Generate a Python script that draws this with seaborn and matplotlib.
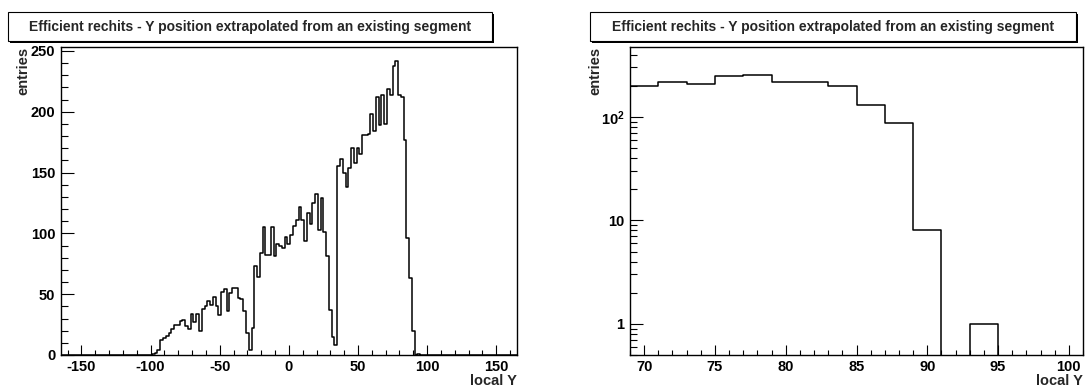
import numpy as np
import pandas as pd
import matplotlib
matplotlib.use("Agg")
import matplotlib.pyplot as plt
from matplotlib.patches import Rectangle
from matplotlib.ticker import MultipleLocator, FixedLocator, FixedFormatter, LogLocator, NullFormatter
import seaborn as sns

# ---------------- data ----------------
title_text = "Efficient rechits - Y position extrapolated from an existing segment"
x_label = "local Y"
y_label = "entries"

bin_width = 2
# left panel: counts per 2-unit bin, first bin starts at -99
left_first_edge = -99
left_counts = [
    1, 2, 4, 12, 14, 16, 18, 21, 25, 25, 28, 29, 24, 21, 34, 27, 34, 20,
    38, 40, 44, 41, 48, 40, 33, 52, 54, 36, 51, 55, 55, 47, 46, 36, 18, 4,
    22, 73, 64, 84, 105, 82, 82, 105, 81, 91, 90, 88, 97, 91, 99, 106, 111,
    122, 111, 94, 117, 108, 125, 132, 103, 129, 101, 81, 37, 15, 8,
    155, 161, 150, 138, 154, 170, 158, 170, 165, 181, 181, 182, 198, 184,
    212, 189, 214, 190, 219, 214, 238, 242, 214, 212, 177, 96, 63, 20, 0, 1,
]
left_range = (-165, 165)
left_ylim = (0, 253)
left_xticks = [-150, -100, -50, 0, 50, 100, 150]
left_yticks = [0, 50, 100, 150, 200, 250]

# right panel (log scale): counts per 2-unit bin, first bin starts at 69
right_first_edge = 69
right_counts = [200, 216, 208, 246, 251, 216, 216, 200, 131, 88, 8, 0, 1, 0, 0, 0]
right_xlim = (69, 101)
right_ylim = (0.5, 470)
right_xticks = [70, 75, 80, 85, 90, 95, 100]
right_yticks = [1, 10, 100]
right_yticklabels = ["1", "10", r"$\mathbf{10^{2}}$"]

# ---------------- style ----------------
sns.set_style("white")
plt.rcParams["font.family"] = ["Liberation Sans", "DejaVu Sans"]
plt.rcParams["font.weight"] = "bold"
plt.rcParams["axes.unicode_minus"] = False
plt.rcParams["mathtext.fontset"] = "custom"
plt.rcParams["mathtext.rm"] = "Liberation Sans:bold"
plt.rcParams["mathtext.bf"] = "Liberation Sans:bold"

W, H = 1085, 390
DPI = 100
fig = plt.figure(figsize=(W / DPI, H / DPI), dpi=DPI)
fig.patch.set_facecolor("white")

PX = 72.0 / DPI  # points per pixel


def axes_rect(x0, x1, ytop, ybot):
    return [x0 / W, 1 - ybot / H, (x1 - x0) / W, (ybot - ytop) / H]


L_X0, L_X1 = 60.7, 517.0
R_X0, R_X1 = 630.0, 1083.0
Y_TOP, Y_BOT = 47.3, 355.0
axL = fig.add_axes(axes_rect(L_X0, L_X1, Y_TOP, Y_BOT))
axR = fig.add_axes(axes_rect(R_X0, R_X1, Y_TOP, Y_BOT))

line_kw = dict(element="step", fill=False, color="black", linewidth=1.1)

# left histogram
l_edges = list(np.arange(left_range[0], left_range[1] + bin_width, bin_width))
left_df = pd.DataFrame({
    "y": left_first_edge + bin_width / 2 + bin_width * np.arange(len(left_counts)),
    "n": left_counts,
})
sns.histplot(data=left_df, x="y", weights="n", bins=l_edges, ax=axL, **line_kw)

# right histogram
r_edges = list(right_first_edge + bin_width * np.arange(len(right_counts) + 1))
right_df = pd.DataFrame({
    "y": right_first_edge + bin_width / 2 + bin_width * np.arange(len(right_counts)),
    "n": right_counts,
})
sns.histplot(data=right_df, x="y", weights="n", bins=r_edges, ax=axR, **line_kw)
axR.set_yscale("log", nonpositive="clip")

axL.set_xlim(*left_range)
axL.set_ylim(*left_ylim)
axR.set_xlim(*right_xlim)
axR.set_ylim(*right_ylim)

# ticks
axL.xaxis.set_major_locator(FixedLocator(left_xticks))
axL.xaxis.set_minor_locator(MultipleLocator(10))
axL.yaxis.set_major_locator(FixedLocator(left_yticks))
axL.yaxis.set_minor_locator(MultipleLocator(10))

axR.xaxis.set_major_locator(FixedLocator(right_xticks))
axR.xaxis.set_minor_locator(MultipleLocator(1))
axR.yaxis.set_major_locator(FixedLocator(right_yticks))
axR.yaxis.set_major_formatter(FixedFormatter(right_yticklabels))
axR.yaxis.set_minor_locator(LogLocator(base=10, subs=np.arange(2, 10)))
axR.yaxis.set_minor_formatter(NullFormatter())

for ax in (axL, axR):
    for s in ax.spines.values():
        s.set_visible(True)
        s.set_color("black")
        s.set_linewidth(1.0)
    ax.tick_params(axis="both", which="both", direction="in", bottom=True, left=True,
                   top=False, right=False, color="black", width=0.8,
                   labelsize=10.5, labelcolor="black")
    ax.tick_params(axis="x", which="major", length=10 * PX, pad=3.5)
    ax.tick_params(axis="x", which="minor", length=5 * PX)
    ax.tick_params(axis="y", which="major", length=13 * PX, pad=4)
    ax.tick_params(axis="y", which="minor", length=6.5 * PX)
    for lab in ax.get_xticklabels() + ax.get_yticklabels():
        lab.set_fontweight("bold")
    ax.set_xlabel(x_label, fontsize=10.5, fontweight="bold", ha="right", va="center")
    ax.set_ylabel(y_label, fontsize=10.5, fontweight="bold")
    ax.yaxis.label.set_rotation_mode("default")
    ax.yaxis.label.set_ha("center")
    ax.yaxis.label.set_va("top")

axL.xaxis.set_label_coords(1.0, -26 / (Y_BOT - Y_TOP))
axL.yaxis.set_label_coords((23 - L_X0) / (L_X1 - L_X0), 1.0)
axR.xaxis.set_label_coords(1.0, -26 / (Y_BOT - Y_TOP))
axR.yaxis.set_label_coords((595 - R_X0) / (R_X1 - R_X0), 1.0)

# title boxes (ROOT style with shadow)
def title_box(x0, x1, ytop, ybot, text):
    sh = 2
    fig.patches.append(Rectangle(((x0 + sh) / W, 1 - (ybot + sh) / H), (x1 - x0) / W, (ybot - ytop) / H,
                                 transform=fig.transFigure, facecolor="black", edgecolor="none", zorder=1))
    fig.patches.append(Rectangle((x0 / W, 1 - ybot / H), (x1 - x0) / W, (ybot - ytop) / H,
                                 transform=fig.transFigure, facecolor="white", edgecolor="black",
                                 linewidth=0.8, zorder=2))
    fig.text((x0 + x1) / 2 / W, 1 - (ytop + ybot) / 2 / H, text, ha="center", va="center",
             fontsize=10, fontweight="bold", zorder=3)

title_box(7.5, 492, 12, 41, title_text)
title_box(590, 1076, 12, 41, title_text)

fig.savefig("out.png", dpi=DPI, facecolor="white")
